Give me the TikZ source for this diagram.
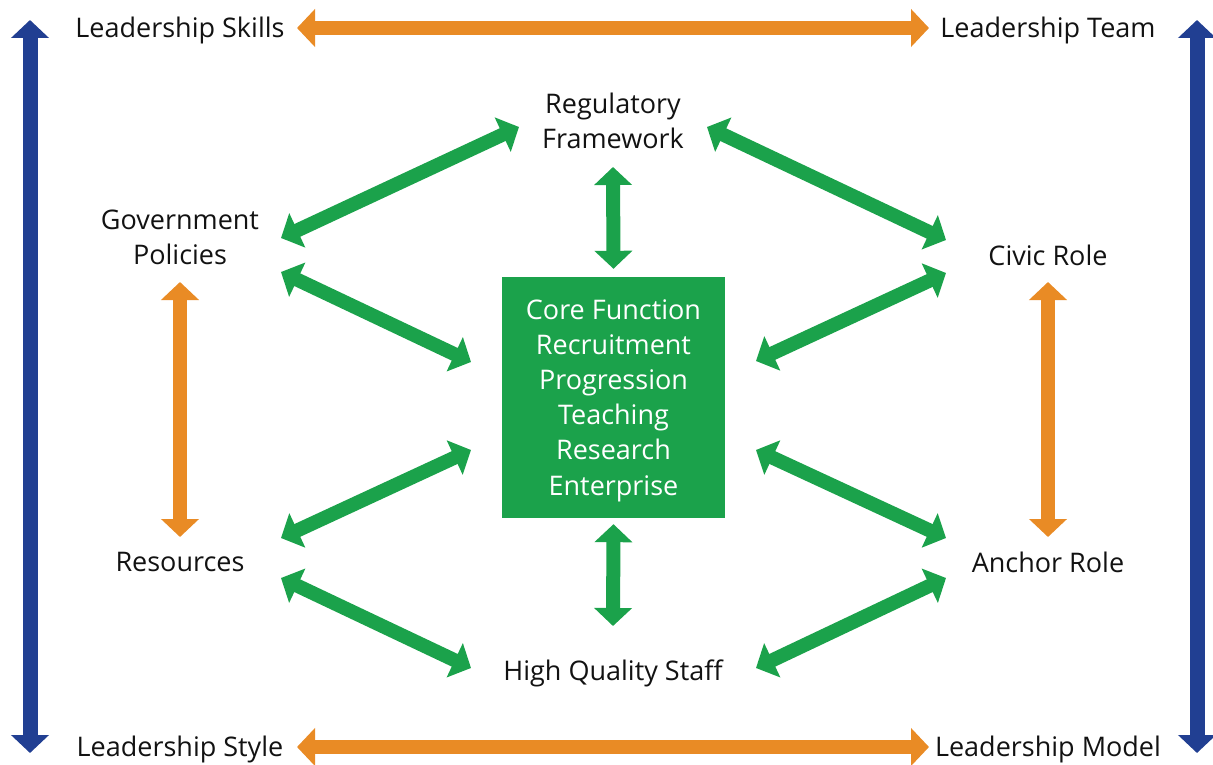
\documentclass[tikz,border=0pt]{standalone}
\usepackage{fontspec}
\setmainfont{Open Sans}
\usepackage{tikz}
\usetikzlibrary{arrows.meta,positioning,calc}

\definecolor{coregreen}{HTML}{1BA24B}
\definecolor{linkorange}{HTML}{E98B25}
\definecolor{frameblue}{HTML}{213F92}

\begin{document}
\begin{tikzpicture}[x=1pt,y=-1pt]
		\tikzset{lbl/.style={inner sep=0pt, align=center, text=black!93, font=\fontsize{27}{35.2}\selectfont},
			fat/.style={line width=#1, {Triangle[length=18pt,width=37pt]}-{Triangle[length=18pt,width=37pt]}},
			garrow/.style={fat=14pt, draw=coregreen, fill=coregreen},
			oarrow/.style={fat=14pt, draw=linkorange, fill=linkorange},
			barrow/.style={fat=15pt, draw=frameblue, fill=frameblue}}
		\useasboundingbox (0,0) rectangle (1213,765);
		% outer labels
		\node[lbl] (skills) at (180,30) {Leadership Skills};
		\node[lbl] (team) at (1048,30) {Leadership Team};
		\node[lbl] (style) at (180,749) {Leadership Style};
		\node[lbl] (model) at (1048,749) {Leadership Model};
		% inner ring
		\node[lbl] (reg) at (613,121) {Regulatory\\Framework};
		\node[lbl] (gov) at (180,237) {Government\\Policies};
		\node[lbl] (civic) at (1048,255) {Civic Role};
		\node[lbl] (res) at (180,562) {Resources};
		\node[lbl] (anchor) at (1048,562) {Anchor Role};
		\node[lbl] (staff) at (613,673) {High Quality Staff};
		\node[draw=none, fill=coregreen, minimum width=223pt, minimum height=241pt] (core) at (613.5,397.5) {};
		\node[lbl, text=white] (coretext) at (613.5,400.5) {Core Function\\Recruitment\\Progression\\Teaching\\Research\\Enterprise};
		% ends of the arrows
		\coordinate (blueL1) at (30,20);   \coordinate (blueL2) at (30,753);
		\coordinate (blueR1) at (1197,20); \coordinate (blueR2) at (1197,753);
		\coordinate (govR) at (281,238);   \coordinate (regL) at (519,127);
		\coordinate (regR) at (707,127);   \coordinate (civL) at (946,240);
		\coordinate (govD) at (281,272);   \coordinate (coreL1) at (471,362);
		\coordinate (civD) at (946,273);   \coordinate (coreR1) at (756,361);
		\coordinate (resU) at (281,538);   \coordinate (coreL2) at (471,450);
		\coordinate (ancU) at (946,538);   \coordinate (coreR2) at (756,450);
		\coordinate (resD) at (281,578);   \coordinate (staffL) at (471,668);
		\coordinate (ancD) at (946,578);   \coordinate (staffR) at (756,668);
		\draw[barrow] (blueL1) -- (blueL2);
		\draw[barrow] (blueR1) -- (blueR2);
		\draw[oarrow] ($(skills.center)+(117,-2)$) -- ($(team.center)+(-119,-2)$);
		\draw[oarrow] ($(style.center)+(117,-2)$) -- ($(model.center)+(-119,-2)$);
		\draw[oarrow] ($(gov.center)+(0,45)$) -- ($(res.center)+(0,-25)$);
		\draw[oarrow] ($(civic.center)+(0,27)$) -- ($(anchor.center)+(0,-25)$);
		\draw[garrow] ($(reg.center)+(0,46)$) -- ($(core.north)+(0,-8)$);
		\draw[garrow] ($(core.south)+(0,6)$) -- ($(staff.center)+(0,-47)$);
		\draw[garrow] (govR) -- (regL);
		\draw[garrow] (regR) -- (civL);
		\draw[garrow] (govD) -- (coreL1);
		\draw[garrow] (civD) -- (coreR1);
		\draw[garrow] (resU) -- (coreL2);
		\draw[garrow] (ancU) -- (coreR2);
		\draw[garrow] (resD) -- (staffL);
		\draw[garrow] (ancD) -- (staffR);
	\end{tikzpicture}
\end{document}
